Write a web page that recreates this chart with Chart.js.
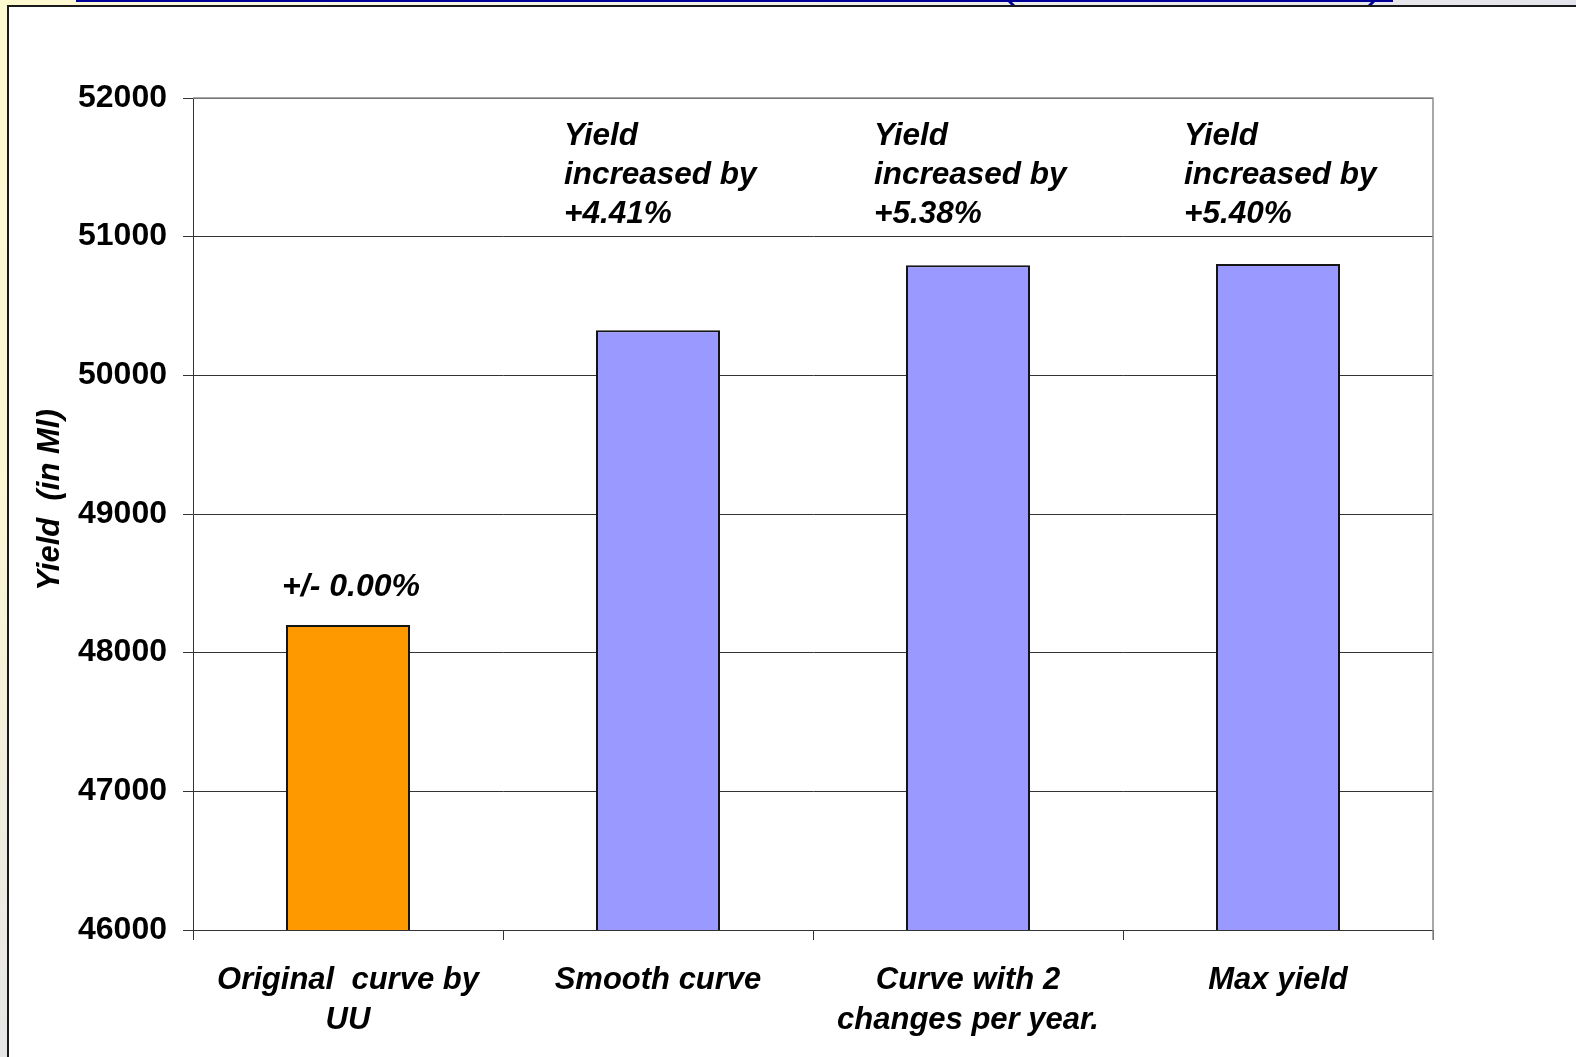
<!DOCTYPE html>
<html>
<head>
<meta charset="utf-8">
<title>Yield comparison</title>
<script src="https://cdn.jsdelivr.net/npm/chart.js@4/dist/chart.umd.min.js"></script>
<style>
  html, body { margin: 0; padding: 0; }
  body { width: 1576px; height: 1057px; overflow: hidden; background: #ffffff; position: relative; }
  #leftStrip { position: absolute; left: 0; top: 0; width: 7px; height: 1057px;
    background: linear-gradient(to bottom, #fff9cf 0%, #fdf7d2 45%, #e6e6e6 100%); }
  #topStrip { position: absolute; left: 0; top: 0; width: 1576px; height: 5px;
    background: linear-gradient(to right, #fff9cf 0%, #fbf8df 15%, #eeeee8 60%, #e4e4ec 100%); }
  #blueRule { position: absolute; left: 76px; top: 0; width: 1317px; height: 2px; background: #000099; }
  .hook { position: absolute; top: 0; width: 4px; height: 6px; background: #000099; }
  #hookL { left: 1009px; transform: skewX(45deg); }
  #hookR { left: 1370px; transform: skewX(-45deg); }
  #frameTop { position: absolute; left: 7px; top: 5px; width: 1569px; height: 2px; background: #1a1a1a; }
  #frameLeft { position: absolute; left: 7px; top: 5px; width: 2px; height: 1052px; background: #1a1a1a; }
  #chart { position: absolute; left: 0; top: 0; }
</style>
</head>
<body>
<div id="leftStrip"></div>
<div id="topStrip"></div>
<div id="blueRule"></div>
<div id="hookL" class="hook"></div>
<div id="hookR" class="hook"></div>
<div id="frameTop"></div>
<div id="frameLeft"></div>
<canvas id="chart" width="1576" height="1057"></canvas>
<script>
// Yield per release curve (in Ml)
const categories = [
  ['Original  curve by', 'UU'],
  ['Smooth curve'],
  ['Curve with 2', 'changes per year.'],
  ['Max yield']
];
const yieldValues = [48200, 50326, 50793, 50803];
const barColors = ['#FF9900', '#9999FF', '#9999FF', '#9999FF'];
const changeLabels = ['+/- 0.00%', '+4.41%', '+5.38%', '+5.40%'];
const yTicks = [46000, 47000, 48000, 49000, 50000, 51000, 52000];
const yTitle = 'Yield  (in Ml)';

const FONT = '"Liberation Sans", Arial, sans-serif';

// Percentage notes: the baseline sits above its bar, the others are
// three-line notes hung from the top of the plot.
const notesPlugin = {
  id: 'notes',
  afterDatasetsDraw(chart) {
    const ctx = chart.ctx;
    const area = chart.chartArea;
    const bars = chart.getDatasetMeta(0).data;
    ctx.save();
    ctx.fillStyle = '#000';
    ctx.textBaseline = 'middle';
    bars.forEach((bar, i) => {
      if (i === 0) {
        ctx.font = 'italic bold 32px ' + FONT;
        ctx.textAlign = 'center';
        ctx.fillText(changeLabels[i], bar.x + 3, bar.y - 38);
      } else {
        ctx.font = 'italic bold 31.5px ' + FONT;
        const lines = ['Yield', 'increased by', changeLabels[i]];
        ctx.textAlign = 'left';
        const left = bar.x - bar.width / 2 - 32;
        lines.forEach((t, k) => ctx.fillText(t, left, area.top + 38 + k * 39.2));
      }
    });
    ctx.restore();
  }
};

// Plot frame on the right side and rotated axis title.
const framePlugin = {
  id: 'frame',
  beforeDatasetsDraw(chart) {
    const ctx = chart.ctx;
    const a = chart.chartArea;
    ctx.save();
    ctx.strokeStyle = '#8c8c8c';
    ctx.lineWidth = 1.5;
    ctx.beginPath();
    ctx.moveTo(a.left, a.top);
    ctx.lineTo(a.right, a.top);
    ctx.lineTo(a.right, a.bottom + 10);
    ctx.stroke();
    ctx.restore();
  },
  afterDraw(chart) {
    const ctx = chart.ctx;
    const a = chart.chartArea;
    ctx.save();
    ctx.translate(50, (a.top + a.bottom) / 2 - 14);
    ctx.rotate(-Math.PI / 2);
    ctx.fillStyle = '#000';
    ctx.font = 'italic bold 31px ' + FONT;
    ctx.textAlign = 'center';
    ctx.textBaseline = 'middle';
    ctx.fillText(yTitle, 0, 0);
    ctx.restore();
  }
};

new Chart(document.getElementById('chart'), {
  type: 'bar',
  data: {
    labels: categories,
    datasets: [{
      data: yieldValues,
      backgroundColor: barColors,
      borderColor: '#151515',
      borderWidth: 2,
      barPercentage: 0.4,
      categoryPercentage: 1.0
    }]
  },
  options: {
    responsive: false,
    animation: false,
    devicePixelRatio: 1,
    layout: { padding: { left: 0, top: 98, right: 143, bottom: 0 } },
    plugins: {
      legend: { display: false },
      tooltip: { enabled: false }
    },
    scales: {
      x: {
        offset: true,
        grid: {
          offset: true,
          drawOnChartArea: false,
          drawTicks: true,
          tickLength: 10,
          color: '#333'
        },
        border: { display: true, color: '#333', width: 1 },
        ticks: {
          color: '#000',
          padding: 21,
          maxRotation: 0,
          autoSkip: false,
          font: { family: FONT, size: 31, weight: 'bold', style: 'italic', lineHeight: 1.27 }
        },
        afterFit(scale) { scale.height = 127; }
      },
      y: {
        min: yTicks[0],
        max: yTicks[yTicks.length - 1],
        afterBuildTicks(scale) { scale.ticks = yTicks.map(v => ({ value: v })); },
        grid: { color: '#333', lineWidth: 1, tickLength: 10 },
        border: { display: true, color: '#333', width: 1 },
        ticks: {
          color: '#000',
          padding: 16,
          font: { family: FONT, size: 32, weight: 'bold' },
          callback: v => String(v)
        },
        afterFit(scale) { scale.width = 193; }
      }
    }
  },
  plugins: [notesPlugin, framePlugin]
});
</script>
</body>
</html>
